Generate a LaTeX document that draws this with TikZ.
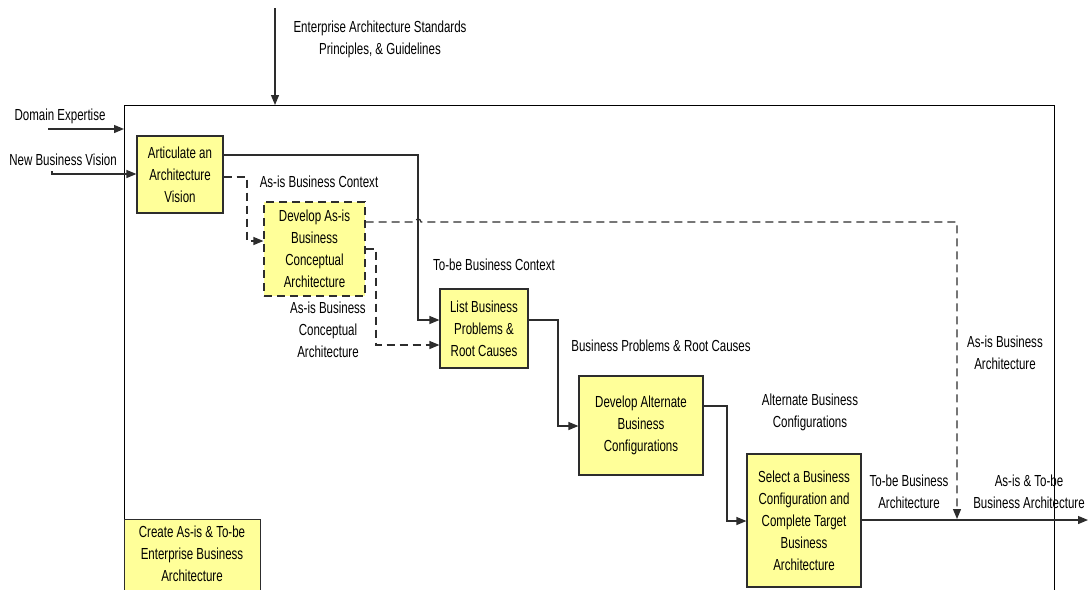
\documentclass[tikz,border=0pt]{standalone}
\usepackage{fontspec}
\setmainfont{Liberation Sans}[FakeStretch=0.72]
\usetikzlibrary{arrows.meta,calc}
\definecolor{procfill}{RGB}{255,255,153}
\definecolor{ink}{RGB}{45,45,45}
\begin{document}
\begin{tikzpicture}[x=1pt,y=-1pt,
  every node/.style={font=\fontsize{16}{22}\selectfont},
  proc/.style={draw=ink, fill=procfill, line width=1.2pt, inner sep=0pt, align=center},
  lbl/.style={inner sep=0pt, align=center},
  flow/.style={draw=ink, line width=1.2pt, -{Triangle[length=10pt,width=8pt]}},
  dflow/.style={flow, dash pattern=on 8pt off 5pt},
  dashbox/.style={dash pattern=on 8pt off 5pt}]
\useasboundingbox (0,0) rectangle (1089,589);
\clip (0,0) rectangle (1089,589);
\fill[white] (0,0) rectangle (1089,589);

% enclosing activity frame
\node[draw=black, line width=1.1pt, minimum width=930pt, minimum height=545pt,
      inner sep=0pt, anchor=north west] (frame) at (124,105) {};

% free ends of the boundary arrows
\coordinate (stdin) at (275,8);
\coordinate (domin) at (48,129);
\coordinate (visin) at (52,171);
\coordinate (outend) at (1088,520);

% activities
\node[proc, minimum width=86pt, minimum height=77pt] (A) at (180,174.5)
  {Articulate an\\Architecture\\Vision};
\node[proc, dashbox, minimum width=101pt, minimum height=94pt] (B) at (314.5,249)
  {Develop As-is\\Business\\Conceptual\\Architecture};
\node[proc, minimum width=88pt, minimum height=79pt] (C) at (484,328.5)
  {List Business\\Problems \&\\Root Causes};
\node[proc, minimum width=124pt, minimum height=99pt] (D) at (641,425.5)
  {Develop Alternate\\Business\\Configurations};
\node[proc, minimum width=114pt, minimum height=133pt] (E) at (804,520.5)
  {Select a Business\\Configuration and\\Complete Target\\Business\\Architecture};
\node[proc, minimum width=136pt, minimum height=80pt, anchor=north west] (F) at (124,519)
  {};
\node[lbl] (Ftext) at (192,554) {Create As-is \& To-be\\Enterprise Business\\Architecture};

% labels
\node[lbl] (lstd) at (380,39) {Enterprise Architecture Standards\\Principles, \& Guidelines};
\node[lbl] (ldom) at (60,116) {Domain Expertise};
\node[lbl] (lvis) at (63,160) {New Business Vision};
\node[lbl] (lasctx) at (319,182) {As-is Business Context};
\node[lbl] (ltoctx) at (494,265) {To-be Business Context};
\node[lbl] (lascon) at (328,330) {As-is Business\\Conceptual\\Architecture};
\node[lbl] (lprob) at (661,346) {Business Problems \& Root Causes};
\node[lbl] (lalt) at (810,412) {Alternate Business\\Configurations};
\node[lbl] (lasarch) at (1005,353) {As-is Business\\Architecture};
\node[lbl] (ltoarch) at (909,492) {To-be Business\\Architecture};
\node[lbl] (lboth) at (1029,492) {As-is \& To-be\\Business Architecture};

% boundary arrows
\draw[flow] (stdin) -- (stdin |- frame.north);
\draw[flow] (domin) -- (domin -| frame.west);
\draw[flow] (visin) -- (52,174) -- (A.west |- 0,174);

% flows between activities
\draw[flow] (A.east |- 0,155) -- (418,155) -- (418,320) -- (C.west |- 0,320);
\draw[dflow] (A.east |- 0,177) -- (247,177) -- (247,241) -- (B.west |- 0,241);
\draw[dflow] (B.east |- 0,249) -- (376,249) -- (376,345) -- (C.west |- 0,345);
\draw[dflow] (B.east |- 0,222) -- (415,222) arc (180:360:3) -- (957,222) -- (957,519);
\draw[flow] (C.east |- 0,320) -- (558,320) -- (558,426) -- (D.west |- 0,426);
\draw[flow] (D.east |- 0,406) -- (727,406) -- (727,521) -- (E.west |- 0,521);
\draw[flow] (E.east |- 0,520) -- (outend);
\end{tikzpicture}
\end{document}
